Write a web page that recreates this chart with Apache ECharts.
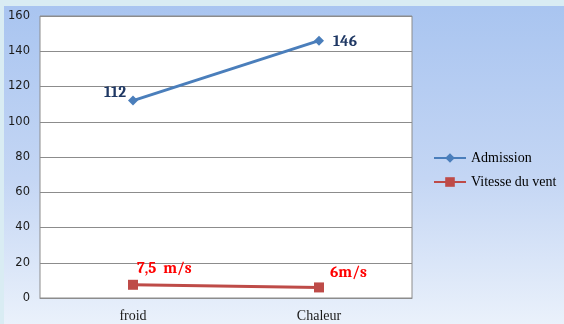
<!DOCTYPE html>
<html>
<head>
<meta charset="utf-8">
<script src="https://cdn.jsdelivr.net/npm/echarts@6/dist/echarts.min.js"></script>
<style>
  html, body { margin: 0; padding: 0; background: #dcedf3; }
  #chart { width: 564px; height: 324px; }
</style>
</head>
<body>
<div id="chart"></div>
<script>
// Catégories et séries
const categories = ['froid', 'Chaleur'];
const admission = [112, 146];
const vitesseVent = [7.5, 6];
const vitesseLabels = ['7,5  m/s', '6m/s'];
const yTicks = { min: 0, max: 160, interval: 20 };

const chart = echarts.init(document.getElementById('chart'), null, { renderer: 'canvas' });

const serifBold = 'Cambria, "DejaVu Serif", serif';
const serifText = '"Liberation Serif", "Times New Roman", serif';

// positions des étiquettes par point, relatives au symbole
const admissionLabelPos = [[-24, -11], [19, -2]];
const ventLabelPos = [[9, -19], [16, -18]];

chart.setOption({
  backgroundColor: new echarts.graphic.LinearGradient(0, 0, 0, 1, [
    { offset: 0, color: '#a8c4f0' },
    { offset: 0.55, color: '#c4d6f4' },
    { offset: 1, color: '#eaf1fb' }
  ]),
  graphic: [
    { type: 'rect', left: 0, top: 0, shape: { width: 564, height: 6 }, style: { fill: '#d9ecf3' }, z: -1 },
    { type: 'rect', left: 0, top: 0, shape: { width: 4, height: 324 }, style: { fill: '#d9ecf3' }, z: -1 }
  ],
  grid: { left: 40, right: 152, top: 16, bottom: 26, show: true, backgroundColor: '#ffffff', borderColor: '#8c8c8c', borderWidth: 1 },
  legend: {
    orient: 'vertical',
    left: 428,
    top: 146,
    itemGap: 10,
    itemWidth: 32,
    itemHeight: 12,
    textStyle: { fontFamily: serifText, fontSize: 14, color: '#000' },
    data: ['Admission', 'Vitesse du vent']
  },
  xAxis: {
    type: 'category',
    data: categories,
    boundaryGap: true,
    axisLine: { show: true, lineStyle: { color: '#8c8c8c' } },
    axisTick: { show: false },
    axisLabel: { fontFamily: serifText, fontSize: 14, color: '#1a1a1a', margin: 11 }
  },
  yAxis: {
    type: 'value',
    min: yTicks.min,
    max: yTicks.max,
    interval: yTicks.interval,
    axisLine: { show: false },
    axisTick: { show: false },
    splitLine: { lineStyle: { color: '#8c8c8c', width: 1 } },
    axisLabel: { fontFamily: 'Verdana, "DejaVu Sans", sans-serif', fontSize: 11.5, color: '#1a1a1a', margin: 10 }
  },
  series: [
    {
      name: 'Admission',
      type: 'line',
      data: admission.map((v, i) => ({ value: v, label: { position: admissionLabelPos[i] } })),
      symbol: 'diamond',
      symbolSize: 10,
      lineStyle: { color: '#4a7ebb', width: 3 },
      itemStyle: { color: '#4a7ebb' },
      label: {
        show: true,
        fontFamily: serifBold,
        fontWeight: 'bold',
        fontSize: 15.5,
        color: '#1f3864'
      }
    },
    {
      name: 'Vitesse du vent',
      type: 'line',
      data: vitesseVent.map((v, i) => ({ value: v, label: { position: ventLabelPos[i] } })),
      symbol: 'rect',
      symbolSize: 10,
      lineStyle: { color: '#be4b48', width: 3 },
      itemStyle: { color: '#be4b48' },
      label: {
        show: true,
        fontFamily: serifBold,
        fontWeight: 'bold',
        fontSize: 15.5,
        color: '#ff0000',
        formatter: p => vitesseLabels[p.dataIndex]
      }
    }
  ]
});
</script>
</body>
</html>
